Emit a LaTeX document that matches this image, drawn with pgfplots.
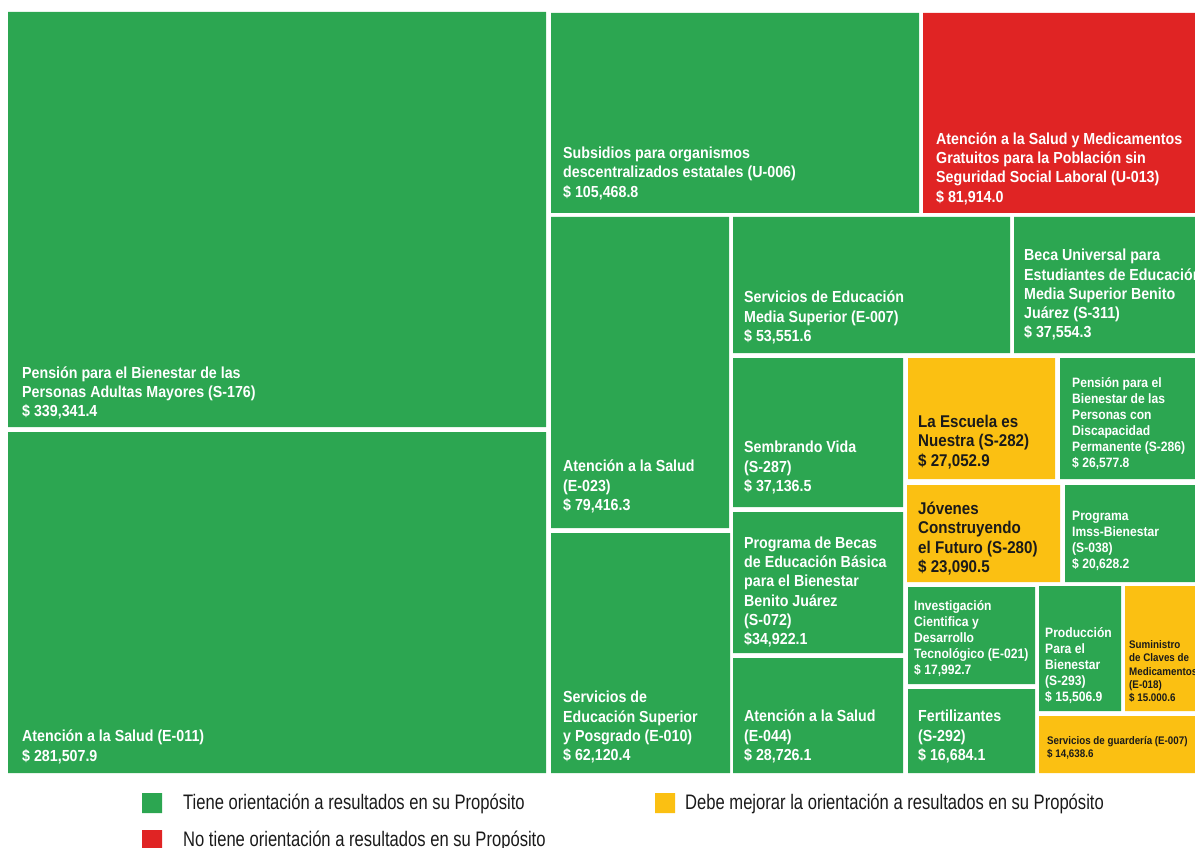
\documentclass[border=0pt]{standalone}
\usepackage{fontspec}
\usepackage{pgfplots}
\pgfplotsset{compat=1.18}
\newfontfamily\labfont{Liberation Sans}[FakeStretch=0.89]
\newfontfamily\legfont{Liberation Sans}[FakeStretch=0.79]
\definecolor{tgreen}{HTML}{2CA651}
\definecolor{tred}{HTML}{E02424}
\definecolor{tyel}{HTML}{FBC012}
\definecolor{ttext}{HTML}{1A1A1A}
\newcommand\rect[5]{\addplot[fill=#5, draw=none, mark=none, forget plot] coordinates {(#1,#2) (#3,#2) (#3,#4) (#1,#4) (#1,#2)};}
\newcommand\st{\rule{0pt}{1em}}
\tikzset{
  big/.style={anchor=north west, inner sep=0pt, align=left, text=white, font=\labfont\bfseries\fontsize{16}{19.3}\selectfont},
  yel/.style={anchor=north west, inner sep=0pt, align=left, text=ttext, font=\labfont\bfseries\fontsize{17}{19.5}\selectfont},
  small/.style={anchor=north west, inner sep=0pt, align=left, text=white, font=\labfont\bfseries\fontsize{13.6}{16}\selectfont},
  tiny/.style={anchor=north west, inner sep=0pt, align=left, text=ttext, font=\labfont\bfseries\fontsize{11}{13.2}\selectfont},
  leg/.style={anchor=base west, inner sep=0pt, text=ttext, font=\legfont\fontsize{21}{24}\selectfont}}
\begin{document}
\begin{tikzpicture}
\useasboundingbox (0,0) rectangle (1195pt,848pt);
\clip (0,0) rectangle (1195pt,848pt);
\begin{axis}[at={(0,0)}, anchor=south west, scale only axis,
  width=1195pt, height=848pt, xmin=0, xmax=1195, ymin=0, ymax=848,
  y dir=reverse, hide axis, clip=false]
% treemap tiles: x1, y1, x2, y2
\rect{8}{12}{546}{427}{tgreen}
\rect{8}{432}{546}{773}{tgreen}
\rect{551}{13}{919}{213}{tgreen}
\rect{923}{13}{1196}{213}{tred}
\rect{551}{217}{729}{528}{tgreen}
\rect{551}{533}{730}{773}{tgreen}
\rect{733}{217}{1010}{353}{tgreen}
\rect{1014}{217}{1196}{353}{tgreen}
\rect{733}{358}{903}{507}{tgreen}
\rect{733}{512}{903}{653}{tgreen}
\rect{733}{658}{903}{773}{tgreen}
\rect{908}{358}{1055}{479}{tyel}
\rect{1060}{358}{1196}{479}{tgreen}
\rect{907}{485}{1060}{582}{tyel}
\rect{1065}{485}{1196}{582}{tgreen}
\rect{908}{587}{1035}{684}{tgreen}
\rect{908}{689}{1035}{773}{tgreen}
\rect{1039}{586}{1121}{711}{tgreen}
\rect{1125}{586}{1196}{711}{tyel}
\rect{1039}{716}{1196}{773}{tyel}
% legend swatches
\rect{142}{793}{162}{813}{tgreen}
\rect{655}{793}{675}{813}{tyel}
\rect{142}{830}{162}{849}{tred}
% labels
\node[big] at (axis cs:22,362) {\st Pensión para el Bienestar de las\\Personas Adultas Mayores (S-176)\\\$ 339,341.4};
\node[big] at (axis cs:22,725.5) {\st Atención a la Salud (E-011)\\\$ 281,507.9};
\node[big] at (axis cs:563,142.5) {\st Subsidios para organismos\\descentralizados estatales (U-006)\\\$ 105,468.8};
\node[big] at (axis cs:936,128) {\st Atención a la Salud y Medicamentos\\Gratuitos para la Población sin\\Seguridad Social Laboral (U-013)\\\$ 81,914.0};
\node[big] at (axis cs:563,455.5) {\st Atención a la Salud\\(E-023)\\\$ 79,416.3};
\node[big] at (axis cs:563,686.5) {\st Servicios de\\Educación Superior\\y Posgrado (E-010)\\\$ 62,120.4};
\node[big] at (axis cs:744,286.5) {\st Servicios de Educación\\Media Superior (E-007)\\\$ 53,551.6};
\node[big] at (axis cs:1024,244.5) {\st Beca Universal para\\Estudiantes de Educación\\Media Superior Benito\\Juárez (S-311)\\\$ 37,554.3};
\node[big] at (axis cs:744,436.5) {\st Sembrando Vida\\(S-287)\\\$ 37,136.5};
\node[big] at (axis cs:744,532) {\st Programa de Becas\\de Educación Básica\\para el Bienestar\\Benito Juárez\\(S-072)\\\$34,922.1};
\node[big] at (axis cs:744,705.5) {\st Atención a la Salud\\(E-044)\\\$ 28,726.1};
\node[yel] at (axis cs:918,410) {\st La Escuela es\\Nuestra (S-282)\\\$ 27,052.9};
\node[small] at (axis cs:1072,373.5) {\st Pensión para el\\Bienestar de las\\Personas con\\Discapacidad\\Permanente (S-286)\\\$ 26,577.8};
\node[yel] at (axis cs:918,497) {\st Jóvenes\\Construyendo\\el Futuro (S-280)\\\$ 23,090.5};
\node[small] at (axis cs:1072,507) {\st Programa\\Imss-Bienestar\\(S-038)\\\$ 20,628.2};
\node[small] at (axis cs:914,597) {\st Investigación\\Cientifica y\\Desarrollo\\Tecnológico (E-021)\\\$ 17,992.7};
\node[big] at (axis cs:918,705.5) {\st Fertilizantes\\(S-292)\\\$ 16,684.1};
\node[small] at (axis cs:1045,624) {\st Producción\\Para el\\Bienestar\\(S-293)\\\$ 15,506.9};
\node[tiny] at (axis cs:1129,637.5) {\st Suministro\\de Claves de\\Medicamentos\\(E-018)\\\$ 15.000.6};
\node[tiny] at (axis cs:1047,733.5) {\st Servicios de guardería (E-007)\\\$ 14,638.6};
% legend texts
\node[leg] at (axis cs:183,809.3) {Tiene orientación a resultados en su Propósito};
\node[leg] at (axis cs:685,809.3) {Debe mejorar la orientación a resultados en su Propósito};
\node[leg] at (axis cs:183,846) {No tiene orientación a resultados en su Propósito};
\end{axis}
\end{tikzpicture}
\end{document}
